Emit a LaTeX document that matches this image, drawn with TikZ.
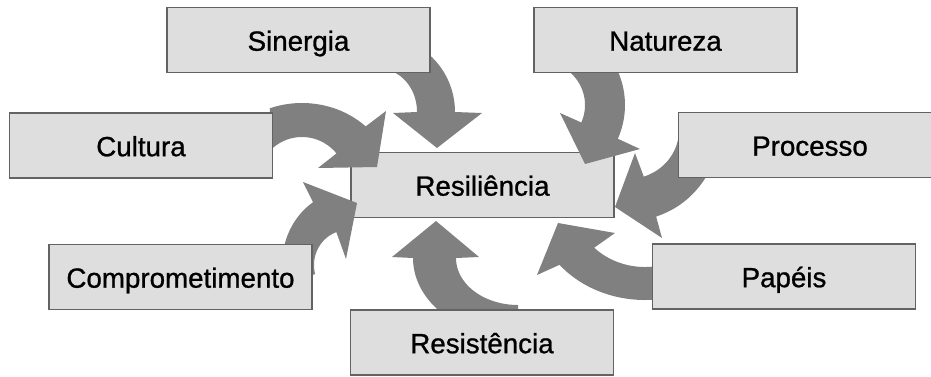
\documentclass[tikz,border=0pt]{standalone}
\usepackage{fontspec}
\setmainfont{Liberation Sans}[BoldFont=Liberation Sans, BoldFeatures={FakeBold=0.9}]
\definecolor{boxfill}{HTML}{DEDEDE}
\definecolor{boxline}{HTML}{636363}
\definecolor{arrowgray}{HTML}{808080}
\begin{document}
\begin{tikzpicture}[x=0.75pt,y=-0.75pt,
  box/.style={draw=boxline, fill=boxfill, line width=1.4pt, inner sep=0pt,
    minimum width=197.25pt, minimum height=48.75pt,
    text height=16pt, text depth=0pt,
    font=\fontsize{20.8}{25}\selectfont\bfseries},
  arr/.style={fill=arrowgray},
  arc/.style={samples=40}]
\useasboundingbox (0,0) rectangle (931,376);
\clip (0,0) rectangle (931,376);

% central box
\node[box] (res) at (482.5,185) {Resiliência};

% curved block arrows
% Sinergia
\fill[arr] plot[arc,domain=-90:0] ({380+75*cos(\x)},{112+76*sin(\x)})
  -- (482,113) -- (437,148) -- (393,113)
  -- plot[arc,domain=0:-90] ({380+37*cos(\x)},{112+43*sin(\x)}) -- cycle;
% Natureza
\fill[arr] plot[arc,domain=-90:24] ({542+83*cos(\x)},{105+83*sin(\x)})
  -- (640,149) -- (585,164) -- (560,113)
  -- plot[arc,domain=24:-90] ({542+43*cos(\x)},{105+43*sin(\x)}) -- cycle;
% Processo
\fill[arr] plot[arc,domain=0:72] ({628+91*cos(\x)},{130+91*sin(\x)})
  -- (662,238) -- (615,207) -- (635,153)
  -- plot[arc,domain=72:0] ({628+51*cos(\x)},{130+49*sin(\x)}) -- cycle;
% Papeis
\fill[arr] plot[arc,domain=75:141] ({645+110*cos(\x)},{205+95*sin(\x)})
  -- (537,275) -- (558,223) -- (615,233)
  -- plot[arc,domain=136.5:75] ({645+70*cos(\x)},{205+62*sin(\x)}) -- cycle;
% Resistencia
\fill[arr] plot[arc,domain=90:180] ({518+105*cos(\x)},{258+80*sin(\x)})
  -- (392,257) -- (436,221) -- (479,257)
  -- plot[arc,domain=180:90] ({518+62*cos(\x)},{258+47*sin(\x)}) -- cycle;
% Comprometimento
\fill[arr] plot[arc,domain=165:238] ({348+66*cos(\x)},{265+74*sin(\x)})
  -- (303,182) -- (357,203) -- (346,259)
  -- plot[arc,domain=250:165] ({348+34*cos(\x)},{265+35*sin(\x)}) -- cycle;
% Cultura
\fill[arr] plot[arc,domain=249:315] ({302+90*cos(\x)},{183+80*sin(\x)})
  -- (386,111) -- (377,167) -- (318,168)
  -- plot[arc,domain=320:225] ({302+45*cos(\x)},{183+46*sin(\x)}) -- cycle;

% outer boxes
\node[box] (sin) at (298.5,40) {Sinergia};
\node[box] (nat) at (665.5,40) {Natureza};
\node[box] (cul) at (141,145.5) {Cultura};
\node[box] (pro) at (810,145) {Processo};
\node[box] (com) at (180.5,277) {Comprometimento};
\node[box] (pap) at (784,276.5) {Papéis};
\node[box] (rst) at (482,342.5) {Resistência};
\end{tikzpicture}
\end{document}
